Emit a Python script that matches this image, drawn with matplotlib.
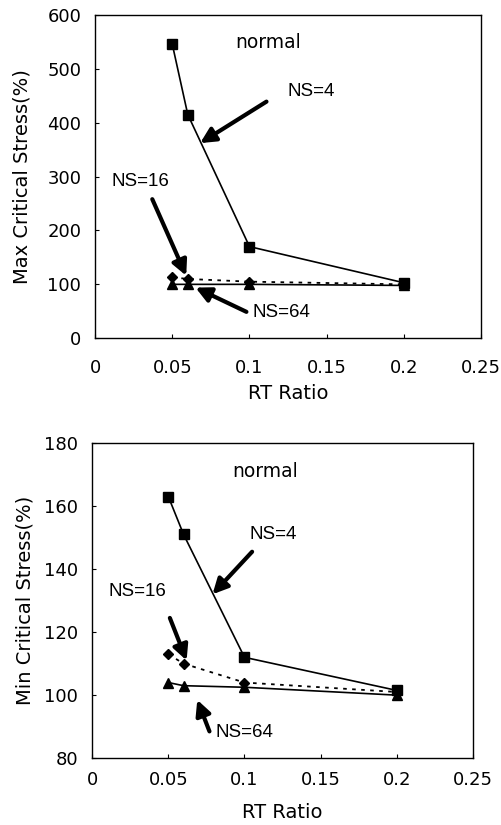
import matplotlib
matplotlib.use("Agg")
import matplotlib.pyplot as plt

plt.rcParams['font.family'] = ['DejaVu Sans']

# data
rt_ratio = [0.05, 0.06, 0.1, 0.2]
max_ns4 = [545, 415, 170, 103]
max_ns16 = [113, 110, 105, 100]
max_ns64 = [100, 100, 100, 98]
min_ns4 = [163, 151, 112, 101.5]
min_ns16 = [113, 110, 104, 101]
min_ns64 = [104, 103, 102.5, 100]

xticks = [0, 0.05, 0.1, 0.15, 0.2, 0.25]
xticklabels = ['0', '0.05', '0.1', '0.15', '0.2', '0.25']

LAB = dict(family='Liberation Sans', fontsize=13.5, ha='center', va='center')


def draw_series(ax, ns4, ns16, ns64):
    ax.plot(rt_ratio, ns4, color='black', lw=1.2, marker='s', ms=7, zorder=3)
    ax.plot(rt_ratio, ns16, color='black', lw=1.3, ls=(0, (2, 3)), marker='D', ms=5.5, zorder=3)
    ax.plot(rt_ratio, ns64, color='black', lw=1.2, marker='^', ms=7.5, zorder=3)


def arrow(ax, head, tail):
    ax.annotate('', xy=head, xytext=tail,
                arrowprops=dict(arrowstyle='-|>,head_length=0.9,head_width=0.45',
                                lw=3, color='black', shrinkA=0, shrinkB=0))


def style(ax, ylabel, ylim, yticks, xpad, xlabelpad, ylabel_x):
    ax.set_xlim(0, 0.25)
    ax.set_ylim(*ylim)
    ax.set_xticks(xticks)
    ax.set_xticklabels(xticklabels)
    ax.set_yticks(yticks)
    ax.tick_params(direction='in', length=3, labelsize=13)
    ax.tick_params(axis='y', pad=10)
    ax.tick_params(axis='x', pad=xpad)
    ax.set_xlabel('RT Ratio', fontsize=14, labelpad=xlabelpad)
    ax.set_ylabel(ylabel, fontsize=14)
    ax.yaxis.set_label_coords(ylabel_x, 0.5)
    for s in ax.spines.values():
        s.set_linewidth(1.0)


fig = plt.figure(figsize=(5.01, 8.25), dpi=100)

ax1 = fig.add_axes([0.190, 0.590, 0.770, 0.392])
draw_series(ax1, max_ns4, max_ns16, max_ns64)
style(ax1, 'Max Critical Stress(%)', (0, 600), [0, 100, 200, 300, 400, 500, 600],
      xpad=15, xlabelpad=5, ylabel_x=-0.166)
ax1.text(0.112, 549, 'normal', fontsize=13.5, ha='center', va='center')
ax1.text(0.14, 457, 'NS=4', **LAB)
arrow(ax1, (0.068, 362), (0.111, 439))
ax1.text(0.029, 290, 'NS=16', **LAB)
arrow(ax1, (0.059, 116), (0.037, 258))
ax1.text(0.121, 47, 'NS=64', **LAB)
arrow(ax1, (0.065, 94), (0.098, 49))

ax2 = fig.add_axes([0.184, 0.081, 0.760, 0.382])
draw_series(ax2, min_ns4, min_ns16, min_ns64)
style(ax2, 'Min Critical Stress(%)', (80, 180), [80, 100, 120, 140, 160, 180],
      xpad=9, xlabelpad=10, ylabel_x=-0.152)
ax2.text(0.1135, 171, 'normal', fontsize=13.5, ha='center', va='center')
ax2.text(0.119, 151, 'NS=4', **LAB)
arrow(ax2, (0.079, 132), (0.105, 145.5))
ax2.text(0.03, 133, 'NS=16', **LAB)
arrow(ax2, (0.062, 111), (0.051, 124.5))
ax2.text(0.1, 88, 'NS=64', **LAB)
arrow(ax2, (0.069, 98.5), (0.077, 88.5))

fig.savefig('out.png', dpi=100)
